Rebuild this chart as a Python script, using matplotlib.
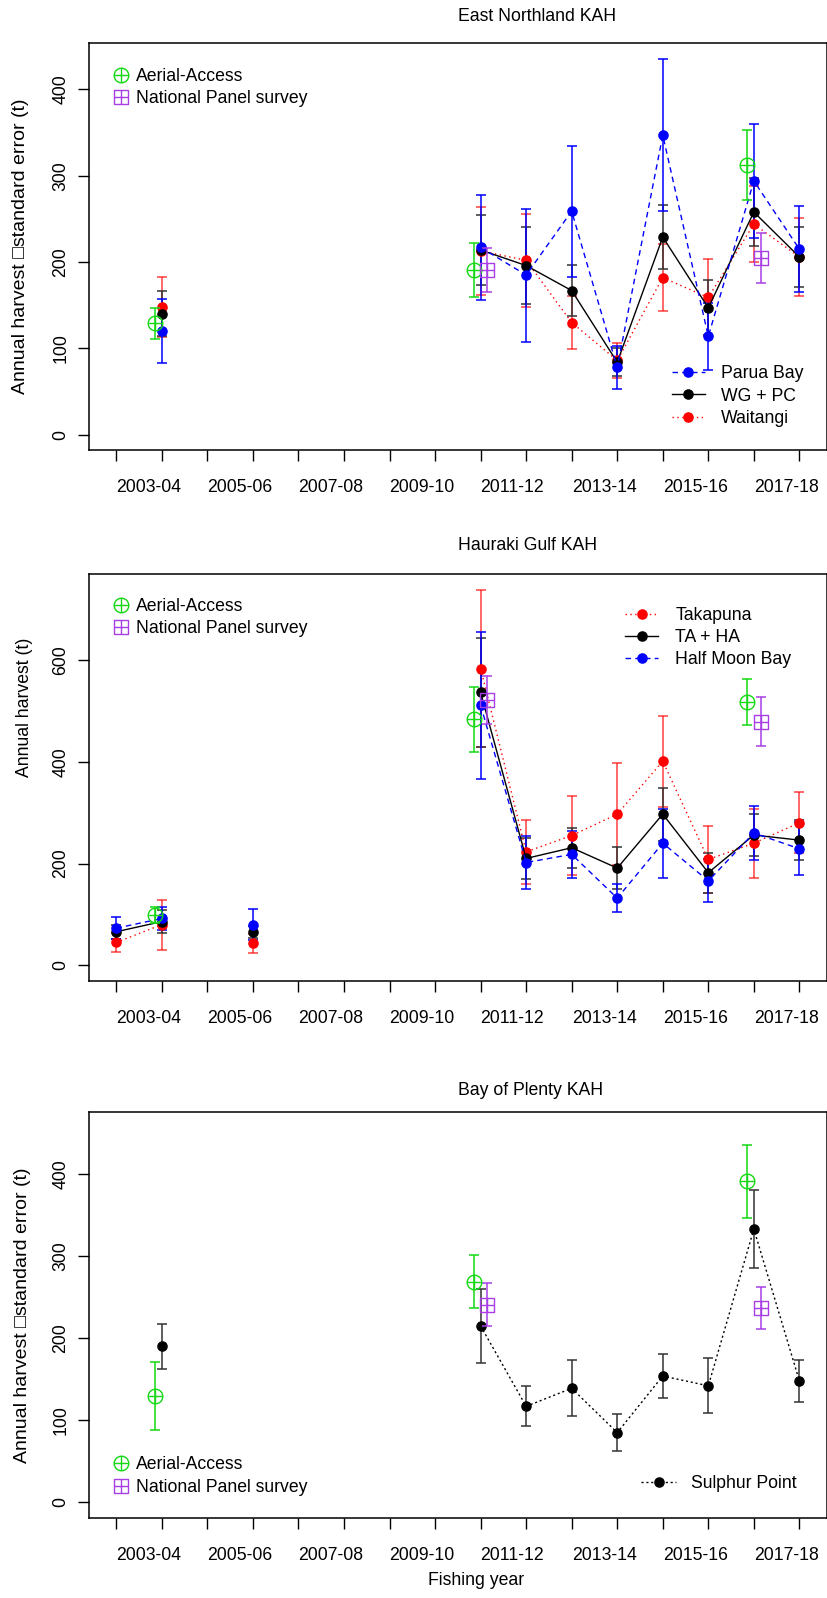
import numpy as np
import matplotlib.pyplot as plt
from matplotlib.path import Path
from matplotlib.transforms import ScaledTranslation

plt.rcParams['font.family'] = ['Liberation Sans', 'DejaVu Sans']
plt.rcParams['font.size'] = 12.7

W, H, DPI = 827, 1598, 100

# fishing years are keyed by their start year (2003 -> "2003-04")
seasons = np.arange(2002, 2018)
label_years = [2003, 2005, 2007, 2009, 2011, 2013, 2015, 2017]
season_labels = ['2003-04', '2005-06', '2007-08', '2009-10',
                 '2011-12', '2013-14', '2015-16', '2017-18']

# ---- East Northland ----
en_years = [2003, 2010, 2011, 2012, 2013, 2014, 2015, 2016, 2017]
parua = [120, 217, 185, 259, 78, 347, 114, 294, 215]
parua_se = [37, 61, 77, 76, 25, 88, 38.5, 66, 50]
wgpc = [140, 214, 196, 167, 84, 229, 147, 258, 206]
wgpc_se = [26, 40.5, 45, 30, 16, 37, 32, 39, 35]
waitangi = [148, 213, 202, 130, 86, 182, 159, 244, 206]
waitangi_se = [34.5, 51, 54, 30.5, 20, 38.5, 44.5, 44, 45]
en_aa_years = [2003, 2010, 2016]
en_aa = [129, 191, 312]
en_aa_se = [18, 31, 40.5]
en_nps_years = [2010, 2016]
en_nps = [191, 205]
en_nps_se = [25.5, 29]

# ---- Hauraki Gulf ----
hg_years = [2002, 2003, 2005, 2010, 2011, 2012, 2013, 2014, 2015, 2016, 2017]
takapuna = [45, 80, 43, 583, 223, 255, 297, 401, 208, 240, 280]
takapuna_se = [18, 49, 18, 154, 63, 78, 100, 89, 66, 68, 60]
taha = [66, 86, 66, 536, 210, 231, 191, 297, 182, 256, 246]
taha_se = [14, 23, 12, 107, 41, 39, 41, 52, 39, 42, 40]
halfmoon = [73, 92, 80, 511, 202, 218, 132, 240, 166, 260, 229]
halfmoon_se = [22, 23, 30, 144, 53, 46, 28, 68, 42, 53, 52]
hg_aa_years = [2003, 2010, 2016]
hg_aa = [99, 483, 517]
hg_aa_se = [16, 63, 45]
hg_nps_years = [2010, 2016]
hg_nps = [521, 479]
hg_nps_se = [47, 47.5]

# ---- Bay of Plenty ----
bop_years = [2003, 2010, 2011, 2012, 2013, 2014, 2015, 2016, 2017]
sulphur = [190, 215, 117, 139, 85, 154, 142, 333, 148]
sulphur_se = [27, 45, 24.5, 34, 22.5, 27, 33.5, 47, 25.5]
bop_aa_years = [2003, 2010, 2016]
bop_aa = [130, 269, 391]
bop_aa_se = [41.5, 32.5, 44]
bop_nps_years = [2010, 2016]
bop_nps = [241, 237]
bop_nps_se = [26, 26]

GREEN = '#14d814'
PURPLE = '#a83ee6'
OFFSET = 0.15   # survey estimates are nudged either side of the season

_plus = [(-1, 0), (1, 0), (0, -1), (0, 1)]
_plus_codes = [Path.MOVETO, Path.LINETO, Path.MOVETO, Path.LINETO]
circle_plus = Path.make_compound_path(Path.unit_circle(), Path(_plus, _plus_codes))
square_plus = Path.make_compound_path(
    Path([(-1, -1), (1, -1), (1, 1), (-1, 1), (-1, -1)]), Path(_plus, _plus_codes))


def full_series(years, vals):
    """spread values over every season, NaN where there is no survey"""
    out = np.full(len(seasons), np.nan)
    for yr, v in zip(years, vals):
        out[yr - seasons[0]] = v
    return out


def site(ax, years, vals, se, color, ls, label, ecolor=None, ealpha=1.0):
    ax.errorbar(years, vals, yerr=se, fmt='none', ecolor=ecolor or color,
                alpha=ealpha, elinewidth=1.1, capsize=3.6, capthick=1.1, zorder=2)
    # NaN seasons break the line so only consecutive surveys are joined
    h, = ax.plot(seasons, full_series(years, vals), color=color, ls=ls, lw=1.0,
                 marker='o', ms=6.6, zorder=4, label=label)
    return h


def survey(ax, years, vals, se, marker, color, shift, label):
    x = np.array(years) + shift
    ax.errorbar(x, vals, yerr=se, fmt='none', ecolor=color, elinewidth=1.1,
                capsize=3.6, capthick=1.1, zorder=5)
    h, = ax.plot(x, vals, ls='none', marker=marker, ms=10.5, mfc='none',
                 mec=color, mew=1.0, zorder=6, label=label)
    return h


def fig_xy(px, py):
    return (px / W, 1 - py / H)


def setup(ax, ylim, yticks, ylabel, title, label_x, title_gap,
          label_size=12.7, label_from_centre=False):
    ax.set_xlim(2001.4, 2017.6)
    ax.set_ylim(*ylim)
    ax.set_xticks(seasons, minor=True)
    ax.set_xticks(label_years, season_labels)
    ax.set_yticks(yticks)
    ax.tick_params(which='both', direction='out', length=7.7, width=1.0)
    ax.tick_params(axis='x', which='major', pad=13.5)
    ax.tick_params(axis='y', pad=6.5)
    shift = ScaledTranslation(-45.55 / DPI, 0, ax.figure.dpi_scale_trans)
    for lab in ax.get_xticklabels():
        lab.set_horizontalalignment('left')
        lab.set_transform(lab.get_transform() + shift)
    for lab in ax.get_yticklabels():
        lab.set_rotation(90)
        lab.set_verticalalignment('center')
    for sp in ax.spines.values():
        sp.set_linewidth(1.1)
    ax.set_ylabel(ylabel, fontsize=label_size)
    ax.yaxis.set_label_coords(label_x, 0.5)
    if label_from_centre:
        ax.yaxis.label.set_horizontalalignment('left')
    up = ScaledTranslation(0, title_gap / DPI, ax.figure.dpi_scale_trans)
    ax.text(0.5, 1.0, title, ha='left', va='center',
            transform=ax.transAxes + up)


fig = plt.figure(figsize=(W / DPI, H / DPI), dpi=DPI)
ax1 = fig.add_axes([89 / W, 1 - 450 / H, 737.7 / W, 406.7 / H])
ax2 = fig.add_axes([89 / W, 1 - 980.7 / H, 737.7 / W, 406.7 / H])
ax3 = fig.add_axes([89 / W, 1 - 1517.9 / H, 737.7 / W, 405.8 / H])

leg_kw = dict(frameon=False, borderpad=0, borderaxespad=0,
              bbox_transform=fig.transFigure, loc='center left')
survey_labels = ['Aerial-Access', 'National Panel survey']

# East Northland
site(ax1, en_years, waitangi, waitangi_se, 'red', (0, (1, 2.5)), 'Waitangi',
     ealpha=0.75)
site(ax1, en_years, wgpc, wgpc_se, 'black', '-', 'WG + PC', ecolor='#333333')
site(ax1, en_years, parua, parua_se, 'blue', (0, (4, 3)), 'Parua Bay')
aa1 = survey(ax1, en_aa_years, en_aa, en_aa_se, circle_plus, GREEN, -OFFSET,
             'Aerial-Access')
np1 = survey(ax1, en_nps_years, en_nps, en_nps_se, square_plus, PURPLE, OFFSET,
             'National Panel survey')
setup(ax1, (-17.7, 453.5), [0, 100, 200, 300, 400],
      'Annual harvest \u25a1standard error (t)', 'East Northland KAH', -0.081,
      27, label_size=14)
h = ax1.get_legend_handles_labels()[0]
first = ax1.legend([aa1, np1], survey_labels,
                   bbox_to_anchor=fig_xy(113.8, 87.5), handlelength=0.8,
                   handletextpad=0.47, labelspacing=0.32, **leg_kw)
ax1.add_artist(first)
ax1.legend([h[2], h[1], h[0]], ['Parua Bay', 'WG + PC', 'Waitangi'],
           bbox_to_anchor=fig_xy(671.7, 396), handlelength=1.9,
           handletextpad=0.9, labelspacing=0.3, **leg_kw)

# Hauraki Gulf
site(ax2, hg_years, takapuna, takapuna_se, 'red', (0, (1, 2.5)), 'Takapuna',
     ealpha=0.75)
site(ax2, hg_years, taha, taha_se, 'black', '-', 'TA + HA', ecolor='#333333')
site(ax2, hg_years, halfmoon, halfmoon_se, 'blue', (0, (4, 3)), 'Half Moon Bay')
aa2 = survey(ax2, hg_aa_years, hg_aa, hg_aa_se, circle_plus, GREEN, -OFFSET,
             'Aerial-Access')
np2 = survey(ax2, hg_nps_years, hg_nps, hg_nps_se, square_plus, PURPLE, OFFSET,
             'National Panel survey')
setup(ax2, (-30.2, 768.8), [0, 200, 400, 600], 'Annual harvest (t)',
      'Hauraki Gulf KAH', -0.076, 28, label_from_centre=True)
h = ax2.get_legend_handles_labels()[0]
first = ax2.legend([aa2, np2], survey_labels,
                   bbox_to_anchor=fig_xy(113.8, 617.5), handlelength=0.8,
                   handletextpad=0.47, labelspacing=0.32, **leg_kw)
ax2.add_artist(first)
ax2.legend(h[:3], ['Takapuna', 'TA + HA', 'Half Moon Bay'],
           bbox_to_anchor=fig_xy(624.9, 637.5), handlelength=1.9,
           handletextpad=0.95, labelspacing=0.3, **leg_kw)

# Bay of Plenty
sp = site(ax3, bop_years, sulphur, sulphur_se, 'black', (0, (1.5, 2)),
          'Sulphur Point', ecolor='#333333')
aa3 = survey(ax3, bop_aa_years, bop_aa, bop_aa_se, circle_plus, GREEN, -OFFSET,
             'Aerial-Access')
np3 = survey(ax3, bop_nps_years, bop_nps, bop_nps_se, square_plus, PURPLE, OFFSET,
             'National Panel survey')
setup(ax3, (-18.9, 475.5), [0, 100, 200, 300, 400],
      'Annual harvest \u25a1standard error (t)', 'Bay of Plenty KAH', -0.079,
      22, label_size=14)
first = ax3.legend([aa3, np3], survey_labels,
                   bbox_to_anchor=fig_xy(113.8, 1476), handlelength=0.8,
                   handletextpad=0.47, labelspacing=0.32, **leg_kw)
ax3.add_artist(first)
ax3.legend([sp], ['Sulphur Point'], bbox_to_anchor=fig_xy(641, 1483.3),
           handlelength=2.0, handletextpad=0.85, **leg_kw)

fig.text(476 / W, 1 - 1580.5 / H, 'Fishing year', ha='center', va='center')

fig.savefig('out.png', dpi=DPI)
